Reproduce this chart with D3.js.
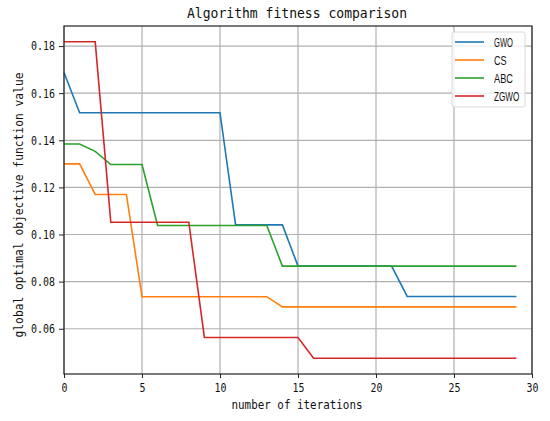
<!DOCTYPE html>
<html>
<head>
<meta charset="utf-8">
<script src="https://cdn.jsdelivr.net/npm/d3@7"></script>
<style>
  body { margin: 0; background: #fff; }
  svg { display: block; }
  .mono { font-family: "DejaVu Sans Mono", "Liberation Mono", monospace; }
</style>
</head>
<body>
<script>
// data
const iterations = d3.range(0, 30);
const seriesNames = ["GWO", "CS", "ABC", "ZGWO"];
const seriesColors = ["#1f77b4", "#ff7f0e", "#2ca02c", "#d62728"];

const gwo = [0.1688, 0.1517, 0.1517, 0.1517, 0.1517, 0.1517, 0.1517, 0.1517, 0.1517, 0.1517,
  0.1517, 0.1041, 0.1041, 0.1041, 0.1041, 0.0866, 0.0866, 0.0866, 0.0866, 0.0866,
  0.0866, 0.0866, 0.0737, 0.0737, 0.0737, 0.0737, 0.0737, 0.0737, 0.0737, 0.0737];
const cs = [0.1300, 0.1300, 0.1170, 0.1170, 0.1170, 0.0736, 0.0736, 0.0736, 0.0736, 0.0736,
  0.0736, 0.0736, 0.0736, 0.0736, 0.0693, 0.0693, 0.0693, 0.0693, 0.0693, 0.0693,
  0.0693, 0.0693, 0.0693, 0.0693, 0.0693, 0.0693, 0.0693, 0.0693, 0.0693, 0.0693];
const abc = [0.1384, 0.1384, 0.1353, 0.1297, 0.1297, 0.1297, 0.1038, 0.1038, 0.1038, 0.1038,
  0.1038, 0.1038, 0.1038, 0.1038, 0.0866, 0.0866, 0.0866, 0.0866, 0.0866, 0.0866,
  0.0866, 0.0866, 0.0866, 0.0866, 0.0866, 0.0866, 0.0866, 0.0866, 0.0866, 0.0866];
const zgwo = [0.1818, 0.1818, 0.1818, 0.1052, 0.1052, 0.1052, 0.1052, 0.1052, 0.1052, 0.0563,
  0.0563, 0.0563, 0.0563, 0.0563, 0.0563, 0.0563, 0.0475, 0.0475, 0.0475, 0.0475,
  0.0475, 0.0475, 0.0475, 0.0475, 0.0475, 0.0475, 0.0475, 0.0475, 0.0475, 0.0475];

const xTicks = [0, 5, 10, 15, 20, 25, 30];
const yTicks = [0.06, 0.08, 0.10, 0.12, 0.14, 0.16, 0.18];

const allSeries = [gwo, cs, abc, zgwo];

// set up SVG
const width = 550;
const height = 421;
const margin = { top: 26, right: 18, bottom: 47, left: 64 };
const plotW = width - margin.left - margin.right;
const plotH = height - margin.top - margin.bottom;

const svg = d3.select('body')
  .append('svg')
  .attr('width', width)
  .attr('height', height);

const x = d3.scaleLinear().domain([0, 30]).range([0, plotW]);
const yMin = d3.min(allSeries, s => d3.min(s));
const yMax = d3.max(allSeries, s => d3.max(s));
const pad = (yMax - yMin) * 0.05;
const y = d3.scaleLinear().domain([yMin - pad, yMax + pad]).range([plotH, 0]);

const g = svg.append('g')
  .attr('transform', `translate(${margin.left},${margin.top})`);

// grid
g.append('g')
  .selectAll('line')
  .data(xTicks)
  .join('line')
  .attr('x1', d => x(d)).attr('x2', d => x(d))
  .attr('y1', 0).attr('y2', plotH)
  .attr('stroke', '#b0b0b0').attr('stroke-width', 1.2);

g.append('g')
  .selectAll('line')
  .data(yTicks)
  .join('line')
  .attr('x1', 0).attr('x2', plotW)
  .attr('y1', d => y(d)).attr('y2', d => y(d))
  .attr('stroke', '#b0b0b0').attr('stroke-width', 1.2);

// lines
const line = d3.line()
  .x((d, i) => x(iterations[i]))
  .y(d => y(d));

g.append('g')
  .selectAll('path')
  .data(allSeries)
  .join('path')
  .attr('d', d => line(d))
  .attr('fill', 'none')
  .attr('stroke', (d, i) => seriesColors[i])
  .attr('stroke-width', 1.6);

// frame
g.append('rect')
  .attr('width', plotW).attr('height', plotH)
  .attr('fill', 'none').attr('stroke', '#222').attr('stroke-width', 1.2);

// axes
const xAxis = g.append('g')
  .attr('transform', `translate(0,${plotH})`)
  .call(d3.axisBottom(x).tickValues(xTicks).tickFormat(d3.format('d')).tickSize(4).tickPadding(5));
const yAxis = g.append('g')
  .call(d3.axisLeft(y).tickValues(yTicks).tickFormat(d3.format('.2f')).tickSize(5).tickPadding(4));

[xAxis, yAxis].forEach(a => {
  a.select('.domain').remove();
  a.selectAll('line').attr('stroke', '#222');
  a.selectAll('text')
    .attr('class', 'mono')
    .style('font-size', '12px')
    .attr('textLength', function() { return this.textContent.length * 6; })
    .attr('lengthAdjust', 'spacingAndGlyphs')
    .attr('fill', '#111');
});

// title
svg.append('text')
  .attr('class', 'mono')
  .attr('x', 297).attr('y', 18)
  .attr('text-anchor', 'middle')
  .attr('textLength', 220)
  .attr('lengthAdjust', 'spacingAndGlyphs')
  .style('font-size', '14.5px')
  .attr('fill', '#111')
  .text('Algorithm fitness comparison');

// axis labels
svg.append('text')
  .attr('class', 'mono')
  .attr('x', 297).attr('y', 409)
  .attr('text-anchor', 'middle')
  .attr('textLength', 131)
  .attr('lengthAdjust', 'spacingAndGlyphs')
  .style('font-size', '12px')
  .attr('fill', '#111')
  .text('number of iterations');

svg.append('text')
  .attr('class', 'mono')
  .attr('transform', 'translate(23,205) rotate(-90)')
  .attr('text-anchor', 'middle')
  .attr('textLength', 265)
  .attr('lengthAdjust', 'spacingAndGlyphs')
  .style('font-size', '12px')
  .attr('fill', '#111')
  .text('global optimal objective function value');

// legend
const legend = svg.append('g').attr('transform', 'translate(452,32)');
legend.append('rect')
  .attr('width', 73).attr('height', 75)
  .attr('rx', 2)
  .attr('fill', '#fff').attr('fill-opacity', 0.8)
  .attr('stroke', '#d9d9d9');

const item = legend.selectAll('g.item')
  .data(seriesNames)
  .join('g')
  .attr('transform', (d, i) => `translate(0,${10 + i * 18})`);

item.append('line')
  .attr('x1', 3).attr('x2', 32)
  .attr('stroke', (d, i) => seriesColors[i])
  .attr('stroke-width', 1.6);

item.append('text')
  .attr('x', 42).attr('y', 4.5)
  .attr('textLength', d => d.length * 6.3)
  .attr('lengthAdjust', 'spacingAndGlyphs')
  .style('font-family', '"Liberation Sans", Arial, sans-serif')
  .style('font-size', '12.5px')
  .attr('fill', '#111')
  .text(d => d);
</script>
</body>
</html>
